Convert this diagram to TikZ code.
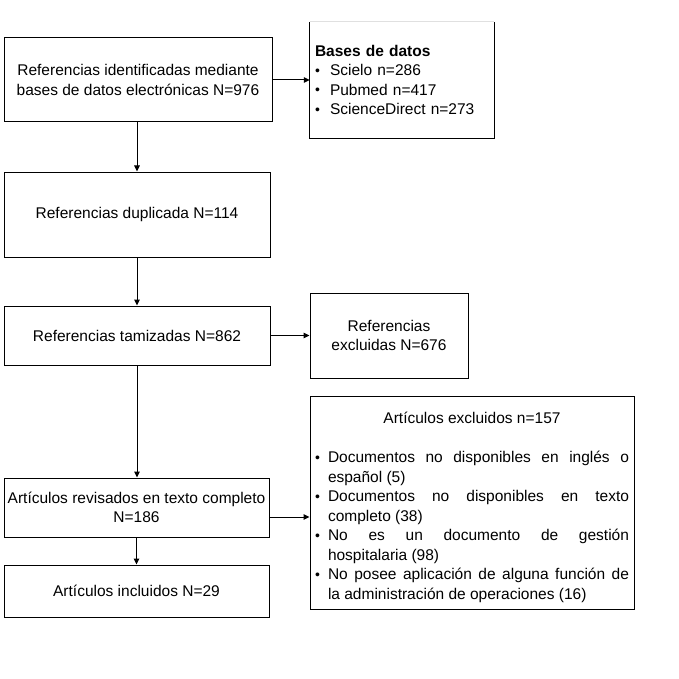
\documentclass[tikz,border=0pt]{standalone}
\usepackage{fontspec}
\setmainfont{Liberation Sans}
\usetikzlibrary{arrows.meta,calc}
\tikzset{
  box/.style={draw=black, line width=1pt, inner sep=0pt, align=center},
  arr/.style={draw=black, line width=1pt, -{Triangle[length=6pt,width=5.5pt]}},
}
\newcommand{\bul}{\raisebox{0.05ex}{\scalebox{0.9}{\textbullet}}}
\newcommand{\itm}[1]{\par\noindent\hangindent=13pt\hangafter=1\makebox[13pt][l]{\bul}#1\par}
\begin{document}
\begin{tikzpicture}[x=1pt,y=-1pt,font=\fontsize{15.5}{19.5}\selectfont]
\useasboundingbox (0,0) rectangle (679,679);
\fill[white] (0,0) rectangle (679,679);
% main column
\node[box, minimum width=268pt, minimum height=84pt] (b1) at (138,80)
  {Referencias identificadas mediante\\bases de datos electrónicas N=976};
\node[box, minimum width=266pt, minimum height=85pt] (b2) at (137,214.5)
  {Referencias duplicada N=114};
\node[box, minimum width=266pt, minimum height=59pt] (b3) at (137,335.5)
  {Referencias tamizadas N=862};
\node[box, minimum width=265pt, minimum height=59pt] (rev) at (136.5,507.5)
  {Artículos revisados en texto completo\\N=186};
\node[box, minimum width=265pt, minimum height=52pt] (inc) at (136.5,591)
  {Artículos incluidos N=29};
% side boxes
\node[inner sep=0pt, minimum width=184pt, minimum height=116pt, text width=174pt, align=left] (bases) at (402,80)
  {\textbf{Bases de datos}\\
   \makebox[15pt][l]{\bul}Scielo n=286\\
   \makebox[15pt][l]{\bul}Pubmed n=417\\
   \makebox[15pt][l]{\bul}ScienceDirect n=273};
\draw[black!12, line width=0.8pt] (bases.north west) -- (bases.north east);
\draw[black, line width=1pt] (bases.north west) -- (bases.south west) -- (bases.south east) -- (bases.north east);
\node[box, minimum width=158pt, minimum height=85pt] (excl) at (389,335.5)
  {Referencias\\excluidas N=676};
\node[draw=black, line width=1pt, inner sep=0pt, minimum width=324pt, minimum height=213pt] (big) at (472,502.5)
  {\parbox{314pt}{\vspace*{10pt}\hyphenpenalty=10000\exhyphenpenalty=10000
   {\centering Artículos excluidos n=157\par}
   \vspace{19.5pt}
   \itm{Documentos no disponibles en inglés o\linebreak español (5)}
   \itm{Documentos no disponibles en texto\linebreak completo (38)}
   \itm{No es un documento de gestión\linebreak hospitalaria (98)}
   \itm{No posee aplicación de alguna función de\linebreak la administración de operaciones (16)}}};
% connectors
\draw[arr] (b1.east) -- (bases.west);
\draw[arr] (b2.north |- b1.south) -- (b2.north);
\draw[arr] (b2.south) -- (b3.north);
\draw[arr] (b3.east) -- (excl.west);
\draw[arr] (b3.south) -- (b3.south |- rev.north);
\draw[arr] (rev.east) ++(0,9.5) coordinate (p) -- (p -| big.west);
\draw[arr] (rev.south) -- (inc.north);
\end{tikzpicture}
\end{document}
